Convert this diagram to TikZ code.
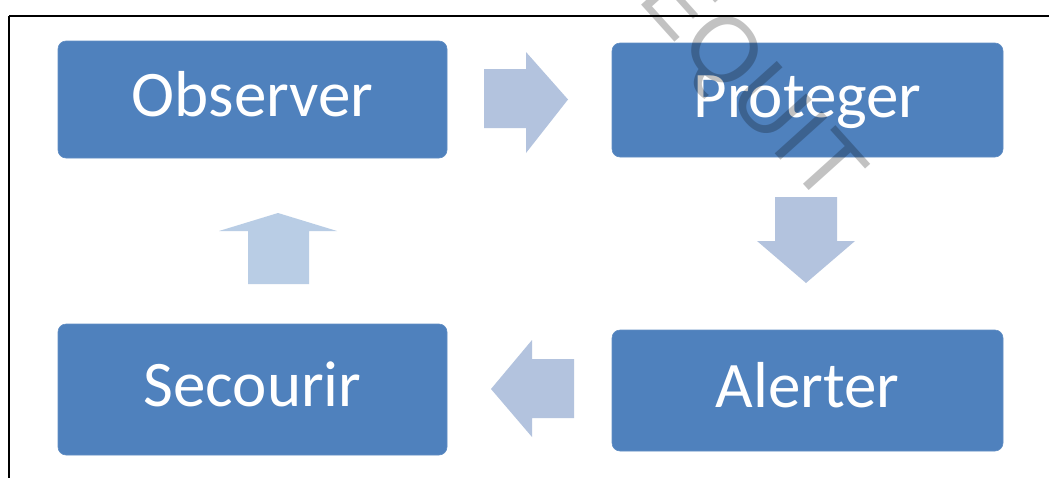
\documentclass[tikz,border=0pt]{standalone}
\usepackage{fontspec}
\setmainfont{Carlito}
\newfontfamily\wmfont{Liberation Sans}
\definecolor{boxblue}{RGB}{79,129,189}
\definecolor{arrblue}{RGB}{179,195,222}
\definecolor{arrup}{RGB}{185,205,229}
\tikzset{
  stepbox/.style={fill=boxblue, draw=boxblue!90!white, line width=0.6pt, rounded corners=8pt,
    text=white, font=\fontsize{65}{65}\selectfont, text height=34pt, text depth=0pt, inner sep=0pt},
  blockarrow/.style={fill=arrblue, draw=none},
  frameline/.style={draw=black, line width=1.6pt},
  watermark/.style={text=black, opacity=0.24, font=\wmfont\fontsize{92}{92}\selectfont}
}
\begin{document}
\begin{tikzpicture}[x=1pt, y=-1pt]
\useasboundingbox (0,0) rectangle (1049,477);
\fill[white] (0,0) rectangle (1049,477);
\begin{scope}
\clip (0,0) rectangle (1049,477);
\draw[frameline] (9,16) -- (1049,16);
\draw[frameline] (9,16) -- (9,478);

\node[stepbox, minimum width=389pt, minimum height=117pt] (obs) at (252.5,99.5) {Observer};
\node[stepbox, minimum width=391pt, minimum height=114pt] (pro) at (807.5,100) {Proteger};
\node[stepbox, minimum width=389pt, minimum height=131pt] (sec) at (252.5,389.5) {Secourir};
\node[stepbox, minimum width=391pt, minimum height=121pt] (ale) at (807.5,390.5) {Alerter};

% right arrow (obs -> pro)
\fill[blockarrow] (484,69) -- (526,69) -- (526,52) -- (568,99.5) -- (526,153) -- (526,128) -- (484,128) -- cycle;
% down arrow (pro -> ale)
\fill[blockarrow] (775,197) -- (837,197) -- (837,241) -- (855,241) -- (806,283) -- (757,241) -- (775,241) -- cycle;
% left arrow (ale -> sec)
\fill[blockarrow] (574,359) -- (532,359) -- (532,340) -- (491,389) -- (532,437) -- (532,418) -- (574,418) -- cycle;
% up arrow (sec -> obs)
\fill[arrup] (248,284) -- (248,231) -- (219,231) -- (278,213) -- (337,231) -- (309,231) -- (309,284) -- cycle;

\node[watermark, rotate=-48, anchor=center] (wm) at (748,88) {EQUIT};
\end{scope}
\end{tikzpicture}
\end{document}
